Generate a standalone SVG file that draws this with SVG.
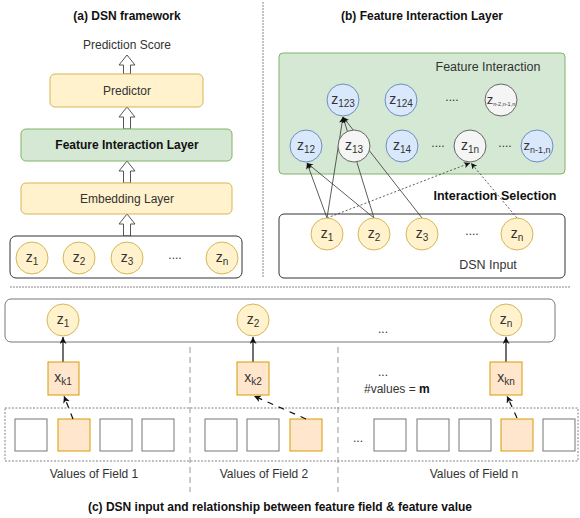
<svg xmlns="http://www.w3.org/2000/svg" width="580" height="518" viewBox="0 0 580 518">
<style>
text{font-family:"Liberation Sans",Arial,sans-serif;fill:#333;}
.title{font-size:12px;font-weight:bold;text-anchor:middle;fill:#111;}
.lbl{font-size:12px;text-anchor:middle;}
.zl{font-size:14px;text-anchor:middle;}
.sub{font-size:10px;}
.yc{fill:#fff2cc;stroke:#d6b656;stroke-width:1;}
.bc{fill:#dae8fc;stroke:#6c8ebf;stroke-width:1;}
.gc{fill:#f5f5f5;stroke:#666;stroke-width:1;}
.ybox{fill:#fff2cc;stroke:#d6b656;stroke-width:1;}
.gbox{fill:#d5e8d4;stroke:#82b366;stroke-width:1;}
.obox{fill:#ffe6cc;stroke:#d79b00;stroke-width:1;}
.wbox{fill:#fff;stroke:#777;stroke-width:1;}
.frame{fill:#fff;stroke:#333;stroke-width:1;}
.hollow{fill:#fff;stroke:#555;stroke-width:1;}
.sep{stroke:#888;stroke-width:1;stroke-dasharray:2 1;fill:none;}
.dash{stroke:#999;stroke-width:1;stroke-dasharray:6 4;fill:none;}
.edge{stroke:#333;stroke-width:0.8;fill:none;marker-end:url(#ah);}
.dedge{stroke:#333;stroke-width:0.8;fill:none;stroke-dasharray:2 2;marker-end:url(#ah);}
.sedge{stroke:#111;stroke-width:1.2;fill:none;marker-end:url(#ah2);}
.ldedge{stroke:#111;stroke-width:1.2;fill:none;stroke-dasharray:6 6;marker-end:url(#ah2);}
.dots{font-size:12px;text-anchor:middle;}
</style>
<defs>
<marker id="ah" markerUnits="userSpaceOnUse" markerWidth="8" markerHeight="8" refX="6" refY="3" orient="auto"><path d="M0,0 L6,3 L0,6 L1.5,3 Z" fill="#111"/></marker>
<marker id="ah2" markerUnits="userSpaceOnUse" markerWidth="10" markerHeight="10" refX="7" refY="3.5" orient="auto"><path d="M0,0 L7,3.5 L0,7 L2,3.5 Z" fill="#111"/></marker>
</defs>

<!-- separators -->
<g id="separators">
<line class="sep" x1="263" y1="2" x2="263" y2="277"/>
<line class="sep" x1="10" y1="287" x2="570" y2="287"/>
</g>

<!-- Panel (a) -->
<text class="title" x="127" y="20">(a) DSN framework</text>
<text class="lbl" x="127" y="49">Prediction Score</text>
<g id="a-arrows">
<polygon class="hollow" points="127,55 135,65 130.5,65 130.5,74 123.5,74 123.5,65 119,65"/>
<polygon class="hollow" points="127,107 135,117 130.5,117 130.5,129 123.5,129 123.5,117 119,117"/>
<polygon class="hollow" points="127,161 135,171 130.5,171 130.5,183 123.5,183 123.5,171 119,171"/>
<polygon class="hollow" points="127,214 135,224 130.5,224 130.5,236 123.5,236 123.5,224 119,224"/>
</g>
<g id="predictor"><rect class="ybox" x="50" y="74" width="153" height="33" rx="5"/><text class="lbl" x="127" y="94.5">Predictor</text></g>
<g id="fil"><rect class="gbox" x="21" y="129" width="211" height="32" rx="5"/><text class="lbl" x="127" y="149" style="font-weight:bold;fill:#111">Feature Interaction Layer</text></g>
<g id="embedding"><rect class="ybox" x="21" y="183" width="211" height="31" rx="5"/><text class="lbl" x="127" y="203">Embedding Layer</text></g>
<g id="a-input">
<rect class="frame" x="10" y="236" width="232" height="42" rx="6"/>
<circle class="yc" cx="32" cy="258" r="16"/><text class="zl" x="32" y="262">z<tspan class="sub" dy="3">1</tspan></text>
<circle class="yc" cx="79" cy="258" r="16"/><text class="zl" x="79" y="262">z<tspan class="sub" dy="3">2</tspan></text>
<circle class="yc" cx="127" cy="258" r="16"/><text class="zl" x="127" y="262">z<tspan class="sub" dy="3">3</tspan></text>
<text class="dots" x="175" y="259">....</text>
<circle class="yc" cx="222" cy="258" r="16"/><text class="zl" x="222" y="262">z<tspan class="sub" dy="3">n</tspan></text>
</g>

<!-- Panel (b) -->
<text class="title" x="422" y="20">(b) Feature Interaction Layer</text>
<g id="fi-box">
<rect class="gbox" x="279" y="53" width="286" height="121" rx="4"/>
<text class="lbl" x="488" y="71" style="font-size:12.5px">Feature Interaction</text>
</g>
<g id="b-edges">
<line class="edge" x1="327" y1="218" x2="307" y2="163"/>
<line class="edge" x1="374" y1="218" x2="307" y2="163"/>
<line class="edge" x1="327" y1="218" x2="343" y2="117"/>
<line class="edge" x1="374" y1="218" x2="343" y2="117"/>
<line class="edge" x1="422" y1="218" x2="343" y2="117"/>
<line class="dedge" x1="327" y1="218" x2="470" y2="163"/>
<line class="dedge" x1="517" y1="218" x2="471" y2="163"/>
</g>
<g id="b-nodes">
<g id="z123"><circle class="bc" cx="343" cy="100" r="16"/><text class="zl" x="343" y="104">z<tspan class="sub" dy="3">123</tspan></text></g>
<g id="z124"><circle class="bc" cx="401" cy="100" r="16"/><text class="zl" x="401" y="104">z<tspan class="sub" dy="3">124</tspan></text></g>
<text class="dots" x="452" y="101">....</text>
<g id="zn2n1n"><circle class="gc" cx="501" cy="100" r="16"/><text class="zl" x="501" y="104" style="font-size:13px">z<tspan style="font-size:5.5px" dy="2">n-2,n-1,n</tspan></text></g>
<g id="z12"><circle class="bc" cx="306" cy="146" r="16"/><text class="zl" x="306" y="150">z<tspan class="sub" dy="3">12</tspan></text></g>
<g id="z13"><circle class="gc" cx="354" cy="146" r="16"/><text class="zl" x="354" y="150">z<tspan class="sub" dy="3">13</tspan></text></g>
<g id="z14"><circle class="bc" cx="402" cy="146" r="16"/><text class="zl" x="402" y="150">z<tspan class="sub" dy="3">14</tspan></text></g>
<text class="dots" x="438" y="147">....</text>
<g id="z1n"><circle class="gc" cx="470" cy="146" r="16"/><text class="zl" x="470" y="150">z<tspan class="sub" dy="3">1n</tspan></text></g>
<text class="dots" x="505" y="147">....</text>
<g id="zn1n"><circle class="bc" cx="537" cy="146" r="16"/><text class="zl" x="537" y="150" style="font-size:13px">z<tspan style="font-size:9px" dy="3">n-1,n</tspan></text></g>
</g>
<text class="title" x="495" y="200" style="font-size:12.5px">Interaction Selection</text>
<g id="dsn-input">
<rect class="frame" x="279" y="214" width="286" height="64" rx="5" style="fill:none"/>
<circle class="yc" cx="327" cy="234" r="16"/><text class="zl" x="327" y="238">z<tspan class="sub" dy="3">1</tspan></text>
<circle class="yc" cx="374" cy="234" r="16"/><text class="zl" x="374" y="238">z<tspan class="sub" dy="3">2</tspan></text>
<circle class="yc" cx="422" cy="234" r="16"/><text class="zl" x="422" y="238">z<tspan class="sub" dy="3">3</tspan></text>
<text class="dots" x="472" y="235">....</text>
<circle class="yc" cx="517" cy="234" r="16"/><text class="zl" x="517" y="238">z<tspan class="sub" dy="3">n</tspan></text>
<text class="lbl" x="488" y="269" style="font-size:12.5px">DSN Input</text>
</g>

<!-- Panel (c) -->
<g id="c-dividers">
<line class="dash" x1="190" y1="347" x2="190" y2="492"/>
<line class="dash" x1="338" y1="347" x2="338" y2="492"/>
</g>
<g id="c-top">
<rect x="5" y="299" width="550" height="43" rx="6" style="fill:none;stroke:#777;stroke-width:1"/>
<circle class="yc" cx="63" cy="320" r="16"/><text class="zl" x="63" y="324">z<tspan class="sub" dy="3">1</tspan></text>
<circle class="yc" cx="253" cy="320" r="16"/><text class="zl" x="253" y="324">z<tspan class="sub" dy="3">2</tspan></text>
<text class="dots" x="383" y="333">...</text>
<circle class="yc" cx="506" cy="320" r="16"/><text class="zl" x="506" y="324">z<tspan class="sub" dy="3">n</tspan></text>
</g>
<g id="c-values">
<rect x="5" y="408" width="573" height="53" style="fill:none;stroke:#666;stroke-width:0.8;stroke-dasharray:2 1.5"/>
<rect class="wbox" x="15" y="419" width="32" height="32"/>
<rect class="obox" x="58" y="419" width="32" height="32"/>
<rect class="wbox" x="100" y="419" width="32" height="32"/>
<rect class="wbox" x="142" y="419" width="32" height="32"/>
<rect class="wbox" x="205" y="419" width="32" height="32"/>
<rect class="wbox" x="247" y="419" width="32" height="32"/>
<rect class="obox" x="290" y="419" width="32" height="32"/>
<text class="dots" x="358" y="442">...</text>
<rect class="wbox" x="374" y="419" width="32" height="32"/>
<rect class="wbox" x="417" y="419" width="32" height="32"/>
<rect class="wbox" x="459" y="419" width="32" height="32"/>
<rect class="obox" x="501" y="419" width="32" height="32"/>
<rect class="wbox" x="543" y="419" width="32" height="32"/>
</g>
<g id="c-edges">
<line class="sedge" x1="63" y1="362" x2="63" y2="337"/>
<line class="sedge" x1="253" y1="362" x2="253" y2="337"/>
<line class="sedge" x1="506" y1="362" x2="506" y2="337"/>
<line class="ldedge" x1="73" y1="419" x2="64" y2="396"/>
<line class="ldedge" x1="306" y1="419" x2="254" y2="396"/>
<line class="ldedge" x1="517" y1="418" x2="507" y2="396"/>
</g>
<g id="xk1"><rect class="obox" x="48" y="362" width="31" height="33"/><text class="zl" x="63" y="382">x<tspan class="sub" dy="3">k1</tspan></text></g>
<g id="xk2"><rect class="obox" x="237" y="362" width="32" height="33"/><text class="zl" x="253" y="382">x<tspan class="sub" dy="3">k2</tspan></text></g>
<g id="xkn"><rect class="obox" x="490" y="362" width="32" height="33"/><text class="zl" x="506" y="382">x<tspan class="sub" dy="3">kn</tspan></text></g>
<text class="dots" x="383" y="376">...</text>
<text x="364" y="393" style="font-size:12px">#values = <tspan style="font-weight:bold;fill:#111">m</tspan></text>
<text class="lbl" x="94" y="478">Values of Field 1</text>
<text class="lbl" x="264" y="478">Values of Field 2</text>
<text class="lbl" x="474" y="478">Values of Field n</text>
<text class="title" x="280" y="511">(c) DSN input and relationship between feature field &amp; feature value</text>
</svg>
